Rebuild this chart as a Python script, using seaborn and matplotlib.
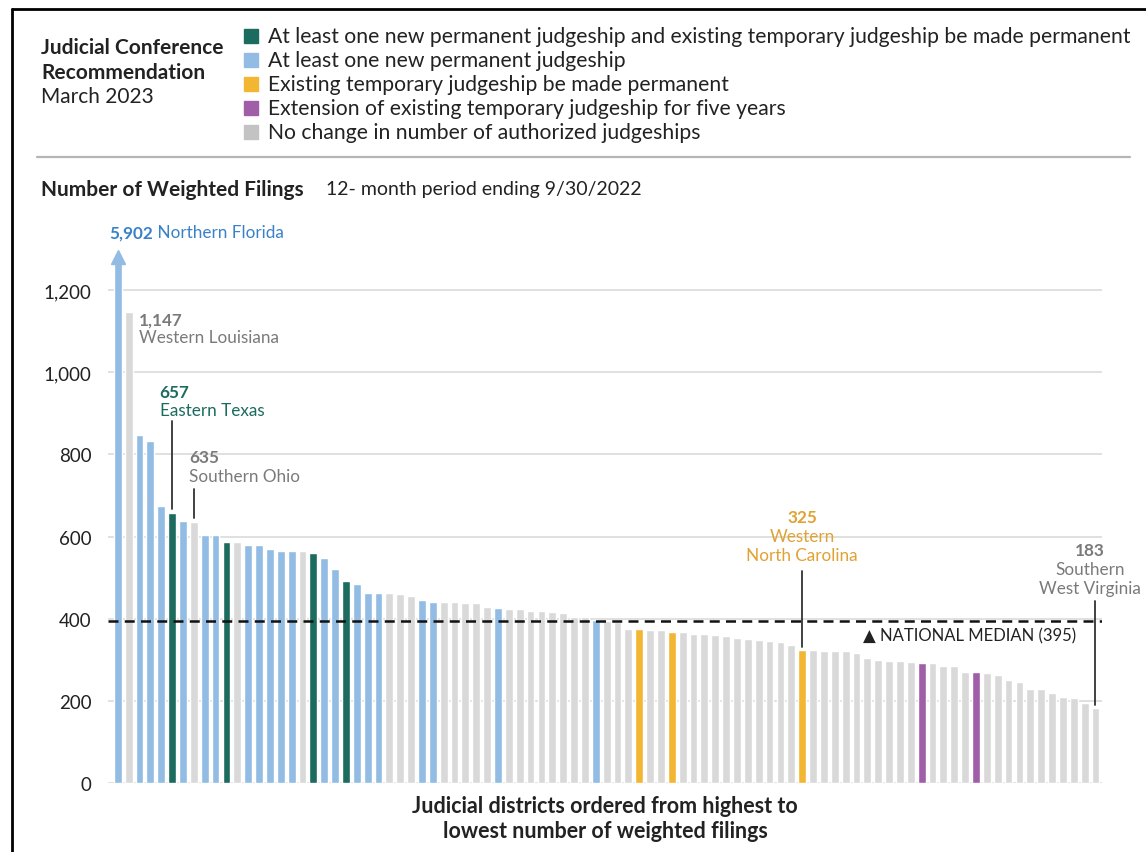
import numpy as np
import pandas as pd
import matplotlib.pyplot as plt
import seaborn as sns
from matplotlib.patches import Rectangle
from matplotlib.lines import Line2D

# -----------------------------
# DATA
# -----------------------------

# weighted filings per judicial district, highest to lowest
filings = [
    5902, 1147, 847, 833, 674, 657, 638, 635, 605, 605,
    588, 588, 580, 580, 570, 565, 565, 565, 559, 549,
    520, 493, 485, 462, 462, 462, 459, 455, 445, 441,
    441, 440, 438, 438, 429, 426, 424, 424, 419, 418,
    416, 415, 404, 404, 397, 394, 393, 375, 375, 373,
    372, 368, 367, 364, 363, 360, 357, 354, 350, 348,
    346, 343, 337, 325, 324, 321, 321, 321, 317, 305,
    300, 298, 297, 295, 292, 292, 285, 285, 270, 270,
    268, 262, 252, 246, 229, 229, 220, 210, 206, 194,
    183,
]

# recommendation code per district
# G = new permanent + temporary made permanent, B = new permanent,
# Y = temporary made permanent, P = extension, N = no change
rec_codes = list(
    "BNBBBGBNBB"
    "GNBBBBBNGB"
    "BGBBBNNNBB"
    "NNNNNBNNNN"
    "NNNNBNNNYN"
    "NYNNNNNNNN"
    "NNNYNNNNNN"
    "NNNNPNNNNP"
    "NNNNNNNNNNN"
)

legend_codes = ["G", "B", "Y", "P", "N"]
legend_labels = [
    "At least one new permanent judgeship and existing temporary judgeship be made permanent",
    "At least one new permanent judgeship",
    "Existing temporary judgeship be made permanent",
    "Extension of existing temporary judgeship for five years",
    "No change in number of authorized judgeships",
]

# called-out districts
callout_names = ["Northern Florida", "Western Louisiana", "Eastern Texas",
                 "Southern Ohio", ["Western", "North Carolina"],
                 ["Southern", "West Virginia"]]
callout_rank = [1, 2, 6, 8, 64, 91]

NATIONAL_MEDIAN = 395

y_ticks = [0, 200, 400, 600, 800, 1000, 1200]

# -----------------------------
# STYLE
# -----------------------------

bar_colors = {"G": "#1b6b5e", "B": "#92bce3", "Y": "#f2b632",
              "P": "#a05ea8", "N": "#d9d9d9"}
legend_colors = {"G": "#1b6b5e", "B": "#92bce3", "Y": "#f2b632",
                 "P": "#a05ea8", "N": "#c3c3c3"}
label_colors = {"G": "#1b6b5e", "B": "#3a82c8", "Y": "#e0a232",
                "P": "#a05ea8", "N": "#7a7a7a"}

W, H = 1146, 853
CAP = 1280  # clip height for the off-scale bar
DARK = "#222222"

sns.set_theme(style="white")
plt.rcParams["font.family"] = ["Lato", "DejaVu Sans"]

df = pd.DataFrame({
    "rank": np.arange(1, len(filings) + 1),
    "filings": filings,
    "rec": rec_codes,
})
df["shown"] = np.minimum(df["filings"], CAP)

fig = plt.figure(figsize=(W / 100, H / 100), dpi=100)


def fx(x):
    return x / W


def fy(y):
    return 1 - y / H


ax = fig.add_axes([fx(108), fy(784), fx(1102) - fx(108), fy(246) - fy(784)])

sns.barplot(
    data=df, x="rank", y="shown", hue="rec",
    palette=bar_colors, dodge=False, width=0.72,
    saturation=1, legend=False, ax=ax, zorder=2,
)

# arrow head on the clipped bar
top = df.iloc[0]
ax.plot(0, top["shown"], marker="^", ms=10.5, color=bar_colors[top["rec"]],
        zorder=3, clip_on=False)

ax.set_xlim(-0.9, len(df) - 0.4)
ax.set_ylim(0, 1310)
ax.set_yticks(y_ticks)
ax.set_yticklabels([f"{t:,}" for t in y_ticks], fontsize=13.5, color=DARK)
ax.set_xticks([])
ax.tick_params(axis="y", length=0, pad=12)
ax.yaxis.grid(True, color="#dddddd", lw=1.3)
ax.set_axisbelow(True)
for s in ax.spines.values():
    s.set_visible(False)

ax.axhline(NATIONAL_MEDIAN, color="#111111", lw=1.8, ls=(0, (4, 2.5)), zorder=4)
ax.text(len(df) - 2.8, NATIONAL_MEDIAN - 17, "\u25b2 NATIONAL MEDIAN (" + str(NATIONAL_MEDIAN) + ")",
        ha="right", va="top", fontsize=12, color=DARK)

ax.set_ylabel("")
ax.set_xlabel("Judicial districts ordered from highest to\nlowest number of weighted filings",
              fontsize=15.5, fontweight="bold", color=DARK, labelpad=9,
              linespacing=1.2)

# -----------------------------
# CALLOUTS
# -----------------------------

fs_num = 12.3
fs_name = 12.3

# Northern Florida (off scale, inline)
r = callout_rank[0] - 1
c = label_colors[df.loc[r, "rec"]]
t1 = ax.text(r - 0.8, 1322, f"{df.loc[r, 'filings']:,}", fontsize=fs_num,
             fontweight="bold", color=c, va="bottom", clip_on=False)
ax.annotate(" " + callout_names[0], xy=(1, 0), xycoords=t1, va="bottom",
            fontsize=fs_name, color=c)

# Western Louisiana, label beside bar
r = callout_rank[1] - 1
c = label_colors[df.loc[r, "rec"]]
ax.text(r + 0.95, 1128, f"{df.loc[r, 'filings']:,}", fontsize=fs_num,
        fontweight="bold", color=c, va="center")
ax.text(r + 0.95, 1086, callout_names[1], fontsize=fs_name, color=c, va="center")

# Eastern Texas and Southern Ohio, left aligned with leader lines
for k, (dx, y_num, y_line) in zip([2, 3], [(-1.15, 953, 881), (-0.4, 793, 716)]):
    r = callout_rank[k] - 1
    c = label_colors[df.loc[r, "rec"]]
    ax.text(r + dx, y_num, f"{df.loc[r, 'filings']:,}", fontsize=fs_num,
            fontweight="bold", color=c, va="center")
    ax.text(r + dx, y_num - 45, callout_names[k], fontsize=fs_name, color=c, va="center")
    ax.plot([r, r], [y_line, df.loc[r, "filings"] + 10], color="#333333", lw=1.3, zorder=5)

# Western North Carolina and Southern West Virginia, centered
for k, (dx, y_num, y_line, y_end) in zip(
        [4, 5], [(0, 647, 516, 331), (-0.5, 567, 443, 190)]):
    r = callout_rank[k] - 1
    c = label_colors[df.loc[r, "rec"]]
    ax.text(r + dx, y_num, f"{df.loc[r, 'filings']:,}", fontsize=fs_num,
            fontweight="bold", color=c, ha="center", va="center", clip_on=False)
    for j, line in enumerate(callout_names[k]):
        ax.text(r + dx, y_num - 46 * (j + 1), line, fontsize=fs_name, color=c,
                ha="center", va="center", clip_on=False)
    ax.plot([r, r], [y_line, y_end], color="#333333", lw=1.3, zorder=5, clip_on=False)

# -----------------------------
# HEADER AND LEGEND
# -----------------------------

fig.text(fx(41), fy(48), "Judicial Conference", fontsize=15, fontweight="bold",
         color=DARK, va="center")
fig.text(fx(41), fy(73), "Recommendation", fontsize=15, fontweight="bold",
         color=DARK, va="center")
fig.text(fx(41), fy(97), "March 2023", fontsize=15, color=DARK, va="center")

for i, (code, label) in enumerate(zip(legend_codes, legend_labels)):
    yc = 37 + i * 24
    fig.patches.append(Rectangle((fx(244), fy(yc + 7)), fx(14), fy(0) - fy(14),
                                 transform=fig.transFigure, color=legend_colors[code]))
    fig.text(fx(268), fy(yc), label, fontsize=15.2, color=DARK, va="center")

fig.add_artist(Line2D([fx(37), fx(1130)], [fy(158), fy(158)], color="#b5b5b5", lw=1.6))

fig.text(fx(41), fy(190), "Number of Weighted Filings", fontsize=15,
         fontweight="bold", color=DARK, va="center")
fig.text(fx(326), fy(190), "12- month period ending 9/30/2022", fontsize=14,
         color=DARK, va="center")

# outer frame
fig.add_artist(Line2D([fx(12), fx(W)], [fy(10), fy(10)], color="black", lw=2))
fig.add_artist(Line2D([fx(12), fx(12)], [fy(10), fy(H)], color="black", lw=2))

plt.savefig("out.png", dpi=100)
plt.close()
